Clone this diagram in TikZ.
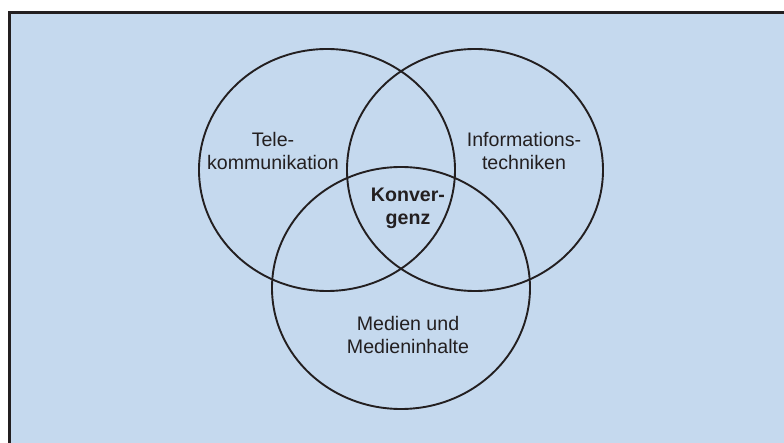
\documentclass[tikz,border=0pt]{standalone}
\usepackage{fontspec}
\setmainfont{Liberation Sans}
\usepackage{tikz}
\usetikzlibrary{positioning}
\definecolor{venngrund}{RGB}{197,217,238}
\definecolor{venntext}{RGB}{35,31,32}

\begin{document}
\begin{tikzpicture}[x=.5pt,y=-.5pt,
  vennlabel/.style={align=center,inner sep=0pt,text=venntext,font=\fontsize{9.8}{11.5}\selectfont},
  vennring/.style={draw=venntext,line width=.95pt}]
\useasboundingbox (0,0) rectangle (784,443);
\fill[white] (0,0) rectangle (784,443);
\fill[venngrund] (9,13) rectangle (790,450);
\draw[line width=1.5pt,venntext] (9,450)--(9,13)--(790,13);
\draw[vennring] (327,170) ellipse [x radius=64pt,y radius=60.5pt];
\draw[vennring] (475,170) ellipse [x radius=64pt,y radius=60.5pt];
\draw[vennring] (401,288) ellipse [x radius=64.5pt,y radius=60.5pt];
\node[vennlabel] (tele) at (273,151) {Tele-\\kommunikation};
\node[vennlabel] (info) at (524,151) {Informations-\\techniken};
\node[vennlabel,font=\fontsize{9.8}{11.5}\selectfont\bfseries] (konv) at (408,208) {Konver-\\genz};%
\node[vennlabel] (medien) at (408,335) {Medien und\\Medieninhalte};
\end{tikzpicture}
\end{document}
